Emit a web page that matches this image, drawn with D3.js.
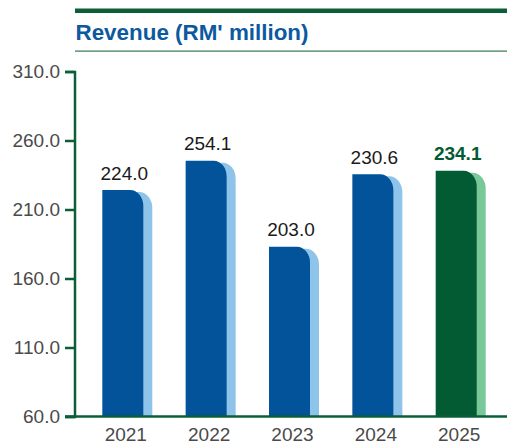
<!DOCTYPE html>
<html>
<head>
<meta charset="utf-8">
<script src="https://cdn.jsdelivr.net/npm/d3@7"></script>
<style>
  html, body { margin: 0; padding: 0; background: #fff; }
  svg { display: block; font-family: "Liberation Sans", Arial, Helvetica, sans-serif; }
</style>
</head>
<body>
<div id="chart"></div>
<script>
const years = ['2021', '2022', '2023', '2024', '2025'];
const revenue = [224.0, 254.1, 203.0, 230.6, 234.1];
// the printed bars are not drawn to scale, so their tops are read off the axis separately
const barLevels = [224.1, 245.4, 183.0, 235.5, 238.1];
const yTicks = [60, 110, 160, 210, 260, 310];

const width = 507, height = 444;
const blue = '#02539a', lightBlue = '#8fc4ea';
const green = '#035b33', lightGreen = '#78c89a';
const axisGreen = '#0b5e37';

const svg = d3.select('#chart').append('svg')
  .attr('width', width)
  .attr('height', height);

// header rules and title
svg.append('rect').attr('x', 75).attr('y', 8.5).attr('width', width - 75).attr('height', 4.5).attr('fill', axisGreen);
svg.append('rect').attr('x', 75).attr('y', 50.5).attr('width', width - 75).attr('height', 1.2).attr('fill', '#2f7a52');
svg.append('text')
  .attr('x', 75.5).attr('y', 40)
  .attr('fill', '#0b5aa0')
  .style('font-size', '22.4px').style('font-weight', 'bold')
  .text("Revenue (RM' million)");

const x = d3.scaleBand()
  .domain(years)
  .range([102.3, 476.7])
  .paddingInner(0.508)
  .paddingOuter(0);

const y = d3.scaleLinear()
  .domain([60, 310])
  .range([416.5, 71.5]);

// rounded top-right corner shape
function barPath(x0, w, top, bottom) {
  const rx = 13, ry = 16;
  return `M${x0},${bottom}V${top}H${x0 + w - rx}A${rx},${ry} 0 0 1 ${x0 + w},${top + ry}V${bottom}Z`;
}

const bars = svg.append('g');
years.forEach((yr, i) => {
  const last = i === years.length - 1;
  const x0 = x(yr), w = x.bandwidth(), top = y(barLevels[i]);
  bars.append('path')
    .attr('d', barPath(x0 + 9, w, top + 2, y(60)))
    .attr('fill', last ? lightGreen : lightBlue);
  bars.append('path')
    .attr('d', barPath(x0, w, top, y(60)))
    .attr('fill', last ? green : blue);
  svg.append('text')
    .attr('x', x0 + w / 2 + 1.5)
    .attr('y', top - 10.5)
    .attr('text-anchor', 'middle')
    .attr('fill', last ? green : '#1a1a1a')
    .style('font-size', '19px')
    .style('font-weight', last ? 'bold' : 'normal')
    .text(d3.format('.1f')(revenue[i]));
});

// y axis
const yAxis = svg.append('g')
  .attr('transform', 'translate(74.5,0)')
  .call(d3.axisLeft(y).tickValues(yTicks).tickFormat(d3.format('.1f')).tickSize(9.5).tickSizeOuter(9.5).tickPadding(5));
yAxis.select('.domain').attr('stroke', axisGreen).attr('stroke-width', 2.5);
yAxis.selectAll('.tick line').attr('stroke', axisGreen).attr('stroke-width', 2.5);
yAxis.selectAll('.tick text')
  .attr('fill', '#4a4a4a')
  .style('font-size', '19px')
  .style('font-family', '"Liberation Sans", Arial, sans-serif');

// x axis
const xAxis = svg.append('g')
  .attr('transform', `translate(0,${y(60)})`)
  .call(d3.axisBottom(x).tickSize(0).tickPadding(11));
xAxis.select('.domain').remove();
xAxis.append('line')
  .attr('x1', 65).attr('x2', width)
  .attr('stroke', axisGreen).attr('stroke-width', 2.5);
xAxis.selectAll('.tick').attr('transform', d => `translate(${x(d) + x.bandwidth() / 2 + 3},0)`);
xAxis.selectAll('.tick text')
  .attr('fill', '#4a4a4a')
  .style('font-size', '19px')
  .style('font-family', '"Liberation Sans", Arial, sans-serif');
</script>
</body>
</html>
